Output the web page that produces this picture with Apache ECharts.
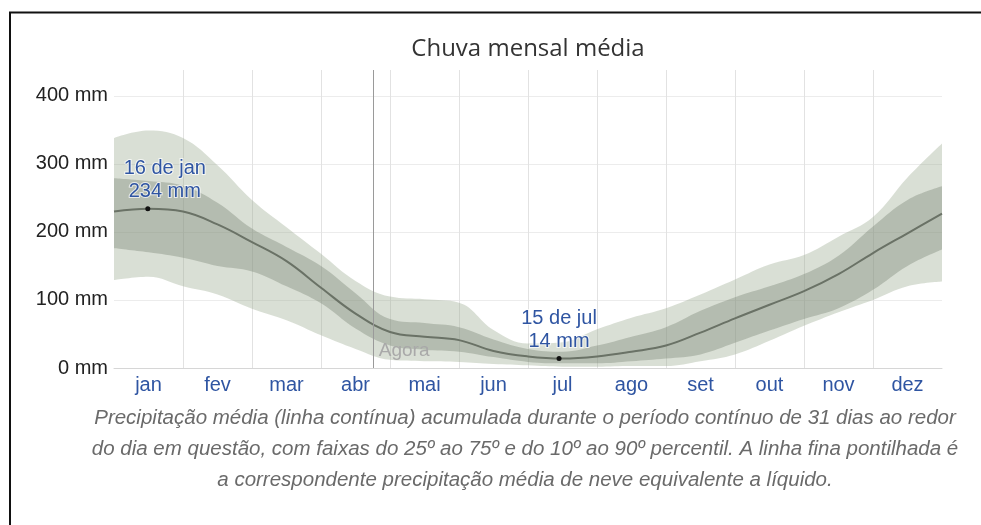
<!DOCTYPE html>
<html>
<head>
<meta charset="utf-8">
<script src="https://cdn.jsdelivr.net/npm/echarts@6/dist/echarts.min.js"></script>
<style>
  html, body { margin: 0; padding: 0; background: #fff; }
  #chart { width: 981px; height: 525px; }
</style>
</head>
<body>
<div id="chart"></div>
<script>
// meses do eixo x
const months = ['jan', 'fev', 'mar', 'abr', 'mai', 'jun', 'jul', 'ago', 'set', 'out', 'nov', 'dez'];
// posição em meses (0 = 1 de jan, 12 = fim de dez), a cada meio mês
const xPos = [0, 0.5, 1, 1.5, 2, 2.5, 3, 3.5, 4, 4.5, 5, 5.5, 6, 6.5, 7, 7.5, 8, 8.5, 9, 9.5, 10, 10.5, 11, 11.5, 12];
// chuva média (mm)
const mean = [230, 234, 230, 211, 185, 157, 118, 80, 53, 46, 41, 25, 17, 14, 17, 24, 33, 52, 73, 93, 113, 138, 169, 198, 227];
// percentis
const p10 = [129, 134, 120, 108, 87, 70, 48, 28, 12, 10, 9, 6, 4, 2, 2, 3, 3, 10, 20, 40, 62, 82, 100, 120, 127];
const p25 = [176, 170, 162, 150, 142, 120, 95, 58, 33, 27, 24, 16, 9, 7, 7, 10, 14, 20, 37, 55, 72, 88, 115, 150, 174];
const p75 = [279, 275, 268, 243, 205, 178, 150, 110, 72, 66, 60, 42, 28, 24, 33, 46, 60, 84, 104, 120, 138, 165, 208, 247, 267];
const p90 = [338, 349, 338, 298, 247, 207, 168, 128, 105, 101, 96, 56, 36, 38, 57, 74, 88, 108, 130, 152, 166, 193, 222, 280, 330];
// eixo y
const yTicks = [0, 100, 200, 300, 400];
const yUnit = ' mm';
// destaques
const peakLabels = ['16 de jan', '15 de jul'];
const peakX = [0.49, 6.45];
const peakValues = [234, 14];
const nowX = 3.75;
const nowText = 'Agora';

const title = 'Chuva mensal média';
const caption = 'Precipitação média (linha contínua) acumulada durante o período contínuo de 31 dias ao redor\n' +
  'do dia em questão, com faixas do 25º ao 75º e do 10º ao 90º percentil. A linha fina pontilhada é\n' +
  'a correspondente precipitação média de neve equivalente a líquido.';

const pairs = arr => xPos.map((x, i) => [x, arr[i]]);
const diff = (hi, lo) => hi.map((v, i) => v - lo[i]);

const blue = '#2f55a2';
const font = 'Liberation Sans, Arial, sans-serif';

let myChart = echarts.init(document.getElementById('chart'));

// faixas empilhadas (eixo de categorias oculto, um ponto a cada meio mês)
function band(stack, lo, hi, color) {
  return [
    {
      type: 'line', xAxisIndex: 2, stack: stack, data: lo, smooth: 0.4, symbol: 'none',
      lineStyle: { opacity: 0 }, silent: true
    },
    {
      type: 'line', xAxisIndex: 2, stack: stack, data: diff(hi, lo), smooth: 0.4, symbol: 'none',
      lineStyle: { opacity: 0 }, areaStyle: { color: color, opacity: 1 }, silent: true
    }
  ];
}

let option = {
  animation: false,
  title: [
    {
      text: title,
      left: 528, top: 37, textAlign: 'center', padding: 0,
      textStyle: { fontFamily: 'Open Sans', fontSize: 24, fontWeight: 'normal', color: '#333' }
    },
    {
      text: caption,
      left: 525, top: 403, textAlign: 'center', padding: 0,
      textStyle: { fontFamily: font, fontStyle: 'italic', fontSize: 20.5,
        fontWeight: 'normal', color: '#6a6a6a', lineHeight: 31 }
    }
  ],
  graphic: [{
    type: 'rect', silent: true,
    shape: { x: 10, y: 12.5, width: 1200, height: 700 },
    style: { fill: 'none', stroke: '#111', lineWidth: 2 }
  }],
  grid: { left: 114, right: 39, top: 70, bottom: 157 },
  xAxis: [
    {
      type: 'value', min: 0, max: 12, interval: 1,
      axisLabel: { show: false }, axisTick: { show: false },
      axisLine: { show: true, lineStyle: { color: '#d6d6d6' } },
      splitLine: { show: true, showMinLine: false, showMaxLine: false, lineStyle: { color: '#e2e2e2' } }
    },
    {
      type: 'category', data: months, position: 'bottom', boundaryGap: true,
      axisLine: { show: false }, axisTick: { show: false }, splitLine: { show: false },
      axisLabel: { color: blue, fontFamily: font, fontSize: 20, margin: 7 }
    },
    {
      type: 'category', data: xPos, position: 'bottom', boundaryGap: false, show: false
    }
  ],
  yAxis: {
    type: 'value', min: yTicks[0], max: 438, interval: 100,
    axisLine: { show: false }, axisTick: { show: false },
    axisLabel: {
      color: '#222', fontFamily: font, fontSize: 20, margin: 6, showMaxLabel: false,
      formatter: v => (yTicks.indexOf(v) >= 0 ? v + yUnit : '')
    },
    splitLine: { show: true, showMaxLine: false, lineStyle: { color: '#ececec' } }
  },
  series: [].concat(
    band('outer', p10, p90, 'rgba(160,175,150,0.40)'),
    band('inner', p25, p75, 'rgba(120,132,115,0.38)'),
    [{
      name: 'média', type: 'line', xAxisIndex: 0, data: pairs(mean), smooth: 0.4, symbol: 'none',
      lineStyle: { color: '#6a7266', width: 2 },
      markLine: {
        silent: true, symbol: 'none', label: { show: false },
        lineStyle: { color: '#9a9a9a', type: 'solid', width: 1 },
        data: [{ xAxis: nowX }]
      },
      markPoint: {
        silent: true,
        data: [
          {
            coord: [nowX, 26], symbol: 'circle', symbolSize: 0,
            label: { show: true, position: 'right', distance: 6, formatter: nowText,
              color: '#a9a9a9', fontFamily: font, fontSize: 19 }
          }
        ].concat(peakLabels.map((t, i) => ({
          coord: [peakX[i], peakValues[i]], symbol: 'circle', symbolSize: 5,
          itemStyle: { color: '#111' },
          label: {
            show: true, position: 'top', distance: 3, offset: [i === 0 ? 17 : 0, 0],
            formatter: t + '\n' + peakValues[i] + yUnit,
            color: blue, fontFamily: font, fontSize: 20, lineHeight: 23, align: 'center',
            textBorderColor: 'rgba(255,255,255,0.7)', textBorderWidth: 2
          }
        })))
      }
    }]
  )
};

myChart.setOption(option);
</script>
</body>
</html>
